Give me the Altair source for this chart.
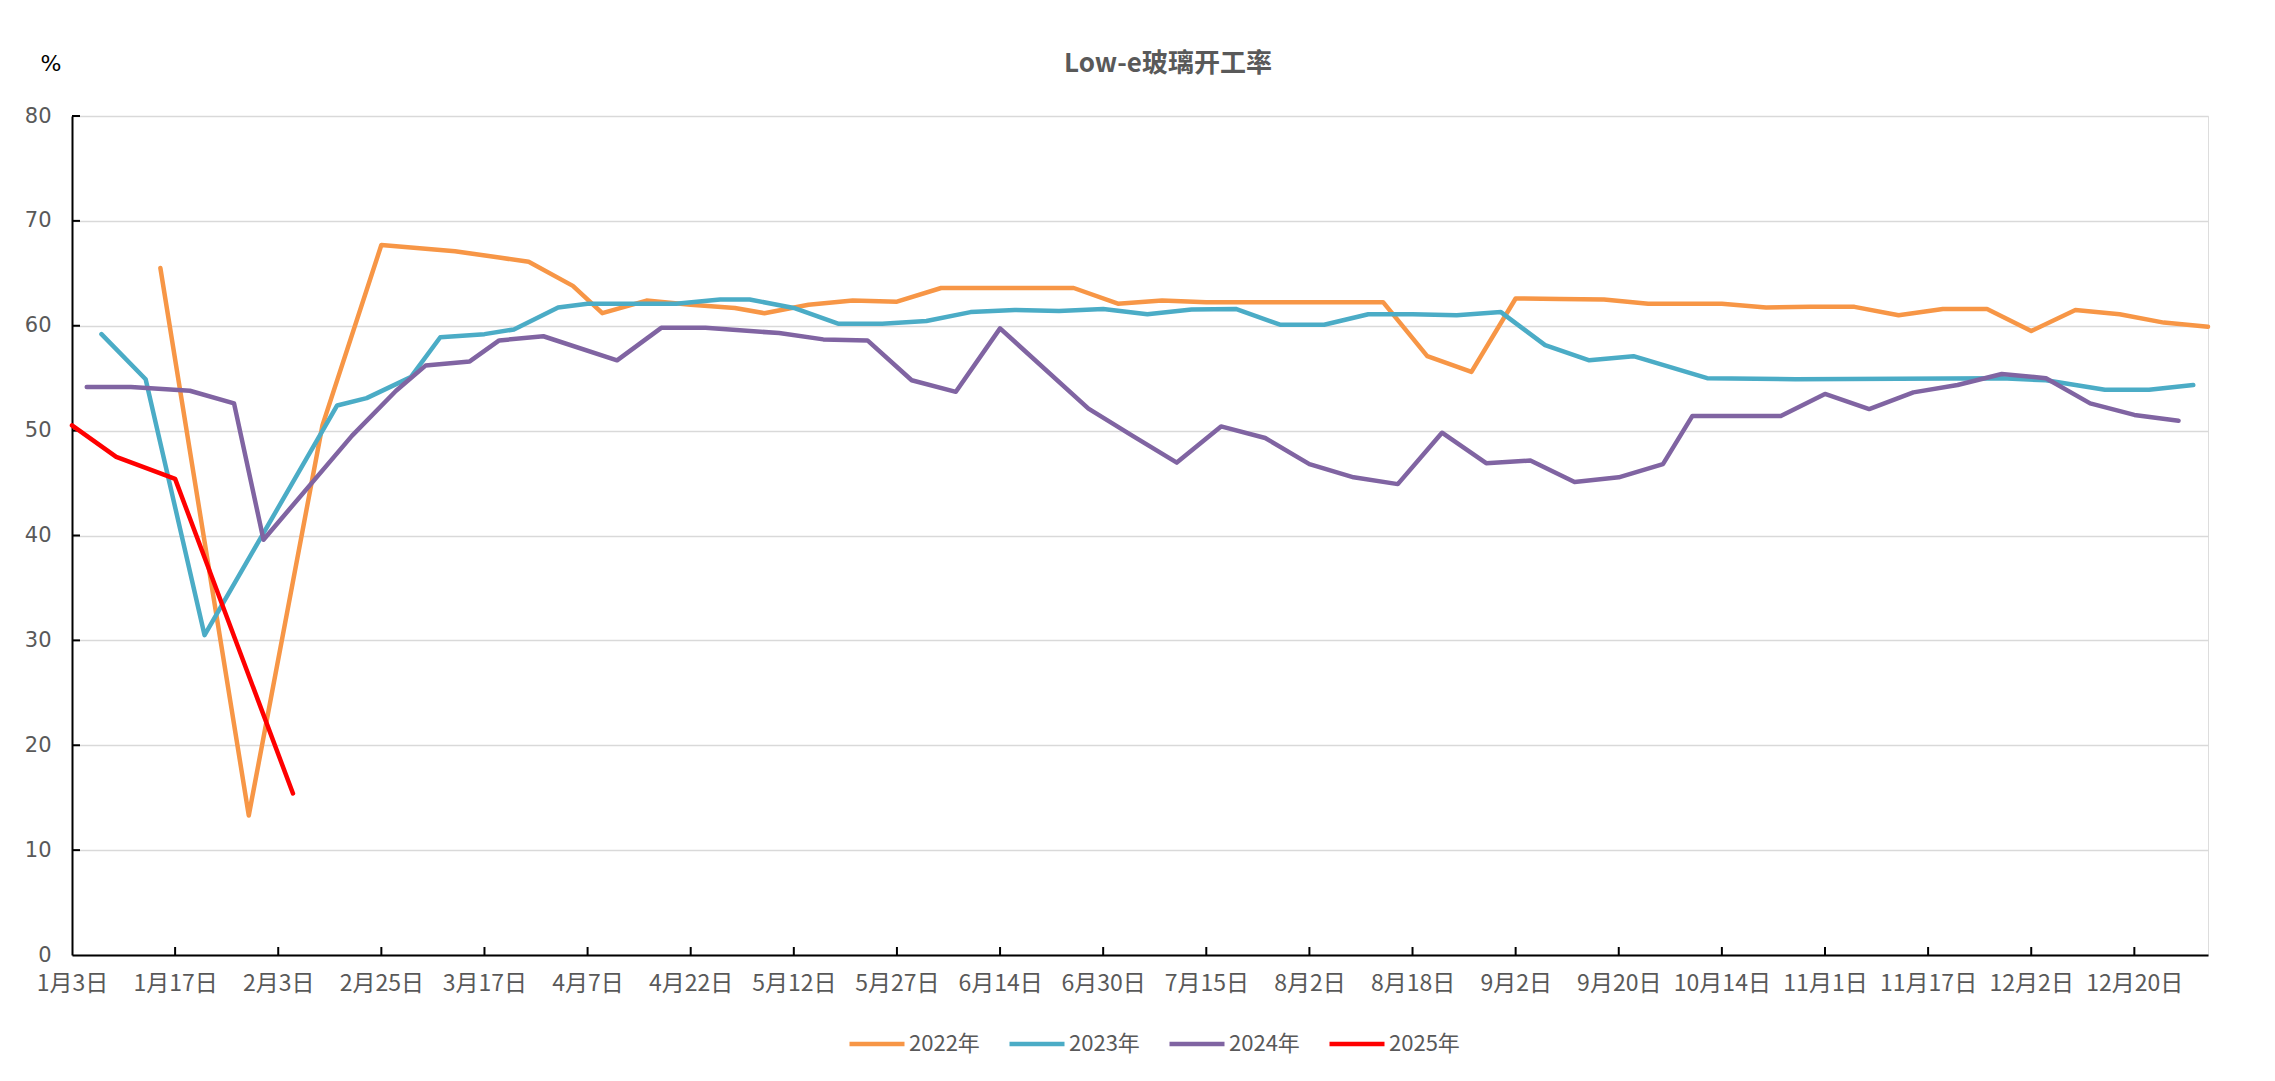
import altair as alt
import pandas as pd

# x positions are category indices on the shared date axis (label every 7 categories)
x_labels = ["1月3日", "1月17日", "2月3日", "2月25日", "3月17日", "4月7日", "4月22日",
            "5月12日", "5月27日", "6月14日", "6月30日", "7月15日", "8月2日", "8月18日",
            "9月2日", "9月20日", "10月14日", "11月1日", "11月17日", "12月2日", "12月20日"]

idx_2022 = [6, 12, 17, 21, 26, 29, 31, 34, 36, 39, 42, 45, 47, 50, 53, 56, 59, 62, 65, 68,
            71, 74, 77, 80, 83, 86, 89, 92, 95, 98, 101, 104, 107, 110, 112, 115, 118, 121,
            124, 127, 130, 133, 136, 139, 142, 145]
val_2022 = [65.5, 13.3, 50.5, 67.7, 67.1, 66.5, 66.1, 63.8, 61.2, 62.4, 62.0, 61.7, 61.2, 62.0,
            62.4, 62.3, 63.6, 63.6, 63.6, 63.6, 62.1, 62.4, 62.25, 62.25, 62.25, 62.25, 62.25,
            57.1, 55.6, 62.6, 62.55, 62.5, 62.1, 62.1, 62.1, 61.75, 61.8, 61.8, 61.0, 61.6,
            61.6, 59.5, 61.5, 61.1, 60.3, 59.9]

idx_2023 = [2, 5, 9, 18, 20, 23, 25, 28, 30, 33, 35, 41, 44, 46, 49, 52, 55, 58, 61, 64, 67,
            70, 73, 76, 79, 82, 85, 88, 91, 94, 97, 100, 103, 106, 111, 117, 131, 134, 138,
            141, 144]
val_2023 = [59.2, 54.9, 30.5, 52.4, 53.1, 55.1, 58.9, 59.2, 59.65, 61.75, 62.1, 62.1, 62.5,
            62.5, 61.7, 60.2, 60.2, 60.45, 61.3, 61.5, 61.4, 61.6, 61.1, 61.55, 61.6, 60.1,
            60.1, 61.1, 61.1, 61.0, 61.3, 58.15, 56.7, 57.1, 55.0, 54.9, 55.0, 54.8, 53.9,
            53.9, 54.35]

idx_2024 = [1, 4, 8, 11, 13, 19, 22, 24, 27, 29, 32, 37, 40, 43, 48, 51, 54, 57, 60, 63, 69,
            72, 75, 78, 81, 84, 87, 90, 93, 96, 99, 102, 105, 108, 110, 116, 119, 122, 125,
            128, 131, 134, 137, 140, 143]
val_2024 = [54.15, 54.15, 53.8, 52.6, 39.6, 49.5, 53.8, 56.2, 56.6, 58.6, 59.0, 56.7, 59.8,
            59.8, 59.3, 58.7, 58.6, 54.8, 53.7, 59.75, 52.1, 49.5, 46.95, 50.4, 49.3, 46.8,
            45.55, 44.9, 49.8, 46.9, 47.15, 45.1, 45.55, 46.8, 51.4, 51.4, 53.5, 52.06, 53.65,
            54.35, 55.4, 55.0, 52.6, 51.5, 50.95]

idx_2025 = [0, 3, 7, 15]
val_2025 = [50.5, 47.5, 45.4, 15.4]

series_names = ["2022年", "2023年", "2024年", "2025年"]
series_colors = ["#F79646", "#4BACC6", "#8064A2", "#FF0000"]

title_text = "Low-e玻璃开工率"
unit_text = "%"

y_ticks = [10, 20, 30, 40, 50, 60, 70, 80]
x_ticks = list(range(7, 141, 7))

rows = []
for name, xs, ys in zip(series_names, [idx_2022, idx_2023, idx_2024, idx_2025],
                        [val_2022, val_2023, val_2024, val_2025]):
    for i, (a, b) in enumerate(zip(xs, ys)):
        rows.append({"series": name, "idx": a, "val": b, "order": i})
df = pd.DataFrame(rows)

W, H = 2136, 839
label_arr = "[" + ",".join("'" + s + "'" for s in x_labels) + "]"

x_scale = alt.Scale(domain=[0, 145], nice=False, zero=False)
y_scale = alt.Scale(domain=[0, 80], nice=False)

lines = alt.Chart(df).mark_line(strokeJoin="round", strokeCap="round").encode(
    x=alt.X("idx:Q", scale=x_scale,
            axis=alt.Axis(values=list(range(0, 141, 7)), labelExpr=label_arr + "[round(datum.value/7)]",
                          title=None, grid=False, ticks=False, tickSize=0, labelPadding=17,
                          labelFlush=False, labelBound=False,
                          labelFont="Noto Sans CJK SC", labelFontSize=23, labelColor="#595959",
                          domainColor="#000000", domainWidth=2, labelOverlap=False)),
    y=alt.Y("val:Q", scale=y_scale,
            axis=alt.Axis(values=[0, 10, 20, 30, 40, 50, 60, 70, 80], title=None,
                          grid=True, gridColor="#D9D9D9", gridWidth=1.5, ticks=False, tickSize=0,
                          labelPadding=21, labelFont="DejaVu Sans", labelFontSize=21,
                          labelColor="#595959", domainColor="#000000", domainWidth=2)),
    color=alt.Color("series:N", scale=alt.Scale(domain=series_names, range=series_colors),
                    legend=alt.Legend(title=None, orient="none", direction="horizontal",
                                      legendX=775, legendY=898, symbolType="stroke",
                                      symbolSize=3025, symbolStrokeWidth=5, labelOffset=2,
                                      columnPadding=20, labelFont="Noto Sans CJK SC",
                                      labelFontSize=22, labelColor="#595959")),
    strokeWidth=alt.StrokeWidth("series:N", scale=alt.Scale(domain=series_names, range=[4.5, 4.5, 4.5, 5.5]),
                                legend=None),
    order="order:Q",
)

ytick_df = pd.DataFrame({"v": y_ticks})
ytk = alt.Chart(ytick_df).mark_rule(color="#000000", strokeWidth=2).encode(
    y=alt.Y("v:Q", scale=y_scale), x=alt.value(0), x2=alt.value(8))

xtick_df = pd.DataFrame({"t": x_ticks})
xtk = alt.Chart(xtick_df).mark_rule(color="#000000", strokeWidth=2).encode(
    x=alt.X("t:Q", scale=x_scale), y=alt.value(H), y2=alt.value(H - 8))

title_mark = alt.Chart(pd.DataFrame({"t": [title_text]})).mark_text(
    font="Noto Sans CJK SC", fontSize=26, fontWeight="bold", color="#595959",
    align="center", baseline="middle").encode(
    text="t:N", x=alt.value(W / 2 + 28), y=alt.value(-52))

unit_mark = alt.Chart(pd.DataFrame({"t": [unit_text]})).mark_text(
    font="DejaVu Sans", fontSize=22, color="#000000",
    align="center", baseline="middle").encode(
    text="t:N", x=alt.value(-21), y=alt.value(-52))

chart = alt.layer(ytk, xtk, lines, title_mark, unit_mark).properties(
    width=W, height=H,
    autosize=alt.AutoSizeParams(type="none"),
    padding={"left": 64, "top": 108, "right": 50, "bottom": 110},
).configure_view(stroke=None).configure(background="white")

chart.save("out.html", embed_options={"renderer": "svg", "actions": False})
